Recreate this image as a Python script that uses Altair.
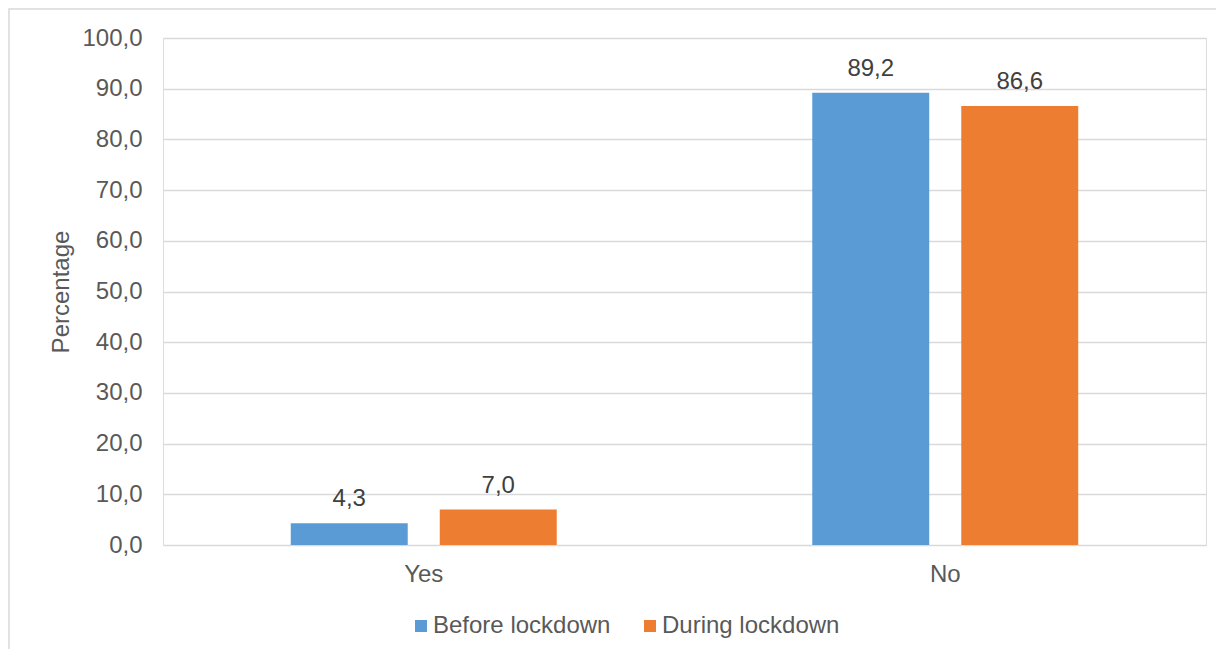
import altair as alt
import pandas as pd

categories = ["Yes", "Yes", "No", "No"]
periods = ["Before lockdown", "During lockdown", "Before lockdown", "During lockdown"]
values = [4.3, 7.0, 89.2, 86.6]

series_order = ["Before lockdown", "During lockdown"]
cat_order = ["Yes", "No"]
colors = ["#5B9BD5", "#ED7D31"]

df = pd.DataFrame({"cat": categories, "period": periods, "value": values})

FONT = "Liberation Sans"
GRAY = "#595959"
FS = 24

base = alt.Chart(df).encode(
    x=alt.X("cat:N", sort=cat_order,
            scale=alt.Scale(paddingInner=0.49, paddingOuter=0.245),
            axis=alt.Axis(title=None, labelAngle=0, ticks=False, domain=False,
                          labelFontSize=FS, labelColor=GRAY, labelFont=FONT,
                          labelPadding=17, grid=False)),
    xOffset=alt.XOffset("period:N", sort=series_order,
                        scale=alt.Scale(paddingInner=0.215, paddingOuter=0)),
)

bars = base.mark_bar().encode(
    y=alt.Y("value:Q", scale=alt.Scale(domain=[0, 100]),
            axis=alt.Axis(title="Percentage", values=list(range(0, 101, 10)),
                          labelExpr="replace(format(datum.value, '.1f'), '.', ',')",
                          ticks=False, domain=False, gridColor="#D9D9D9", gridWidth=1.3,
                          labelFontSize=FS, labelColor=GRAY, labelFont=FONT, labelPadding=21,
                          titleFontSize=FS, titleColor=GRAY, titleFont=FONT,
                          titleFontWeight="normal", titlePadding=8)),
    color=alt.Color("period:N", sort=series_order,
                    scale=alt.Scale(domain=series_order, range=colors),
                    legend=alt.Legend(title=None, orient="none", direction="horizontal",
                                      legendX=246, legendY=576, symbolType="square",
                                      symbolSize=144, symbolStrokeWidth=0,
                                      labelFontSize=FS, labelColor=GRAY, labelFont=FONT,
                                      labelLimit=400, labelOffset=0, columnPadding=27)),
)

labels = base.mark_text(dy=-24, fontSize=FS, color="#404040", font=FONT).encode(
    y=alt.Y("value:Q"),
    text=alt.Text("label:N"),
).transform_calculate(label="replace(format(datum.value, '.1f'), '.', ',')")

border = alt.Chart(pd.DataFrame({"k": [0]})).mark_rect(
    fill=None, stroke="#D9D9D9", strokeWidth=1.5, clip=False
).encode(x=alt.value(-154), x2=alt.value(1400), y=alt.value(-29), y2=alt.value(800))

chart = alt.layer(border, bars, labels).properties(
    width=1043, height=507,
    autosize=alt.AutoSizeParams(type="none"),
    padding={"left": 155, "top": 30, "right": 10, "bottom": 104},
).configure_view(stroke=None).configure(background="white")

chart.save("out.html", embed_options={"renderer": "svg", "actions": False})
